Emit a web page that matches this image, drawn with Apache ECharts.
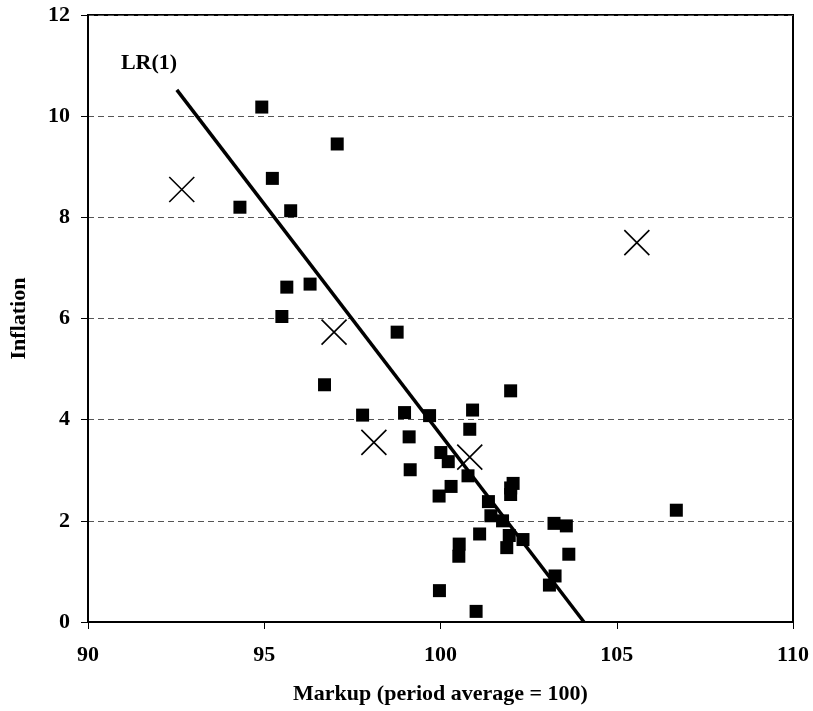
<!DOCTYPE html>
<html>
<head>
<meta charset="utf-8">
<script src="https://cdn.jsdelivr.net/npm/echarts@6/dist/echarts.min.js"></script>
<style>
  html, body { margin: 0; padding: 0; background: #fff; }
  #main { width: 813px; height: 711px; }
</style>
</head>
<body>
<div id="main"></div>
<script>
// markup (x) vs inflation (y), filled squares
const squareX = [94.93, 97.07, 95.23, 94.31, 95.75, 95.64, 96.30, 95.50, 98.77, 96.71,
  97.79, 98.98, 99.69, 100.91, 101.99, 100.83, 99.11, 100.01, 100.22, 99.14,
  100.78, 100.30, 99.96, 102.06, 101.99, 101.99, 101.36, 101.43, 101.76, 101.11,
  101.95, 102.34, 101.88, 100.53, 100.52, 103.22, 103.57, 103.64, 103.25, 103.09,
  99.97, 101.01, 106.69]
const squareY = [10.18, 9.45, 8.77, 8.20, 8.13, 6.62, 6.68, 6.04, 5.73, 4.69,
  4.09, 4.14, 4.08, 4.19, 4.57, 3.81, 3.66, 3.35, 3.17, 3.01,
  2.89, 2.68, 2.49, 2.74, 2.65, 2.52, 2.38, 2.10, 2.00, 1.74,
  1.71, 1.63, 1.47, 1.54, 1.30, 1.95, 1.90, 1.34, 0.91, 0.73,
  0.62, 0.21, 2.21]
// crosses
const crossX = [92.66, 96.98, 98.11, 100.83, 105.57]
const crossY = [8.55, 5.73, 3.55, 3.26, 7.50]
// regression line LR(1)
const lineX = [92.52, 104.07]
const lineY = [10.52, 0]
const lineLabel = 'LR(1)'
const labelPos = [91.73, 11.05]

const xTicks = { min: 90, max: 110, interval: 5 }
const yTicks = { min: 0, max: 12, interval: 2 }

const font = 'Liberation Serif'
const chart = echarts.init(document.getElementById('main'))

const pairs = (xs, ys) => xs.map((x, i) => [x, ys[i]])

const option = {
  animation: false,
  backgroundColor: '#fff',
  grid: {
    left: 85, right: 20, top: 15, bottom: 89,
    show: true, borderColor: '#000', borderWidth: 2
  },
  xAxis: {
    type: 'value',
    min: xTicks.min, max: xTicks.max, interval: xTicks.interval,
    name: 'Markup (period average = 100)',
    nameLocation: 'middle',
    nameGap: 61,
    nameTextStyle: { fontFamily: font, fontWeight: 'bold', fontSize: 22, color: '#000' },
    axisLine: { lineStyle: { color: '#000', width: 2 } },
    axisTick: { length: 7, lineStyle: { color: '#000', width: 1 } },
    axisLabel: { margin: 22, fontFamily: font, fontWeight: 'bold', fontSize: 22, color: '#000' },
    splitLine: { show: false }
  },
  yAxis: {
    type: 'value',
    min: yTicks.min, max: yTicks.max, interval: yTicks.interval,
    name: 'Inflation',
    nameLocation: 'middle',
    nameGap: 58,
    nameTextStyle: { fontFamily: font, fontWeight: 'bold', fontSize: 22, color: '#000' },
    axisLine: { lineStyle: { color: '#000', width: 2 } },
    axisTick: { length: 7, lineStyle: { color: '#000', width: 1 } },
    axisLabel: { margin: 18, fontFamily: font, fontWeight: 'bold', fontSize: 22, color: '#000' },
    splitLine: { lineStyle: { color: '#555', width: 1, type: [6, 4] } }
  },
  series: [
    {
      type: 'line',
      data: pairs(lineX, lineY),
      symbol: 'none',
      lineStyle: { color: '#000', width: 3.5 },
      z: 3
    },
    {
      type: 'scatter',
      data: pairs(squareX, squareY),
      symbol: 'rect',
      symbolSize: 13,
      itemStyle: { color: '#000', opacity: 1 },
      z: 4
    },
    {
      type: 'scatter',
      data: pairs(crossX, crossY),
      symbol: 'path://M0,0L10,10M10,0L0,10',
      symbolSize: 25,
      itemStyle: { color: 'transparent', borderColor: '#000', borderWidth: 1.6, opacity: 1 },
      z: 5
    },
    {
      type: 'scatter',
      data: [labelPos],
      symbolSize: 0,
      itemStyle: { opacity: 1 },
      label: {
        show: true, position: 'inside', formatter: lineLabel,
        fontFamily: font, fontWeight: 'bold', fontSize: 22, color: '#000'
      },
      silent: true
    }
  ]
}
chart.setOption(option)
</script>
</body>
</html>
